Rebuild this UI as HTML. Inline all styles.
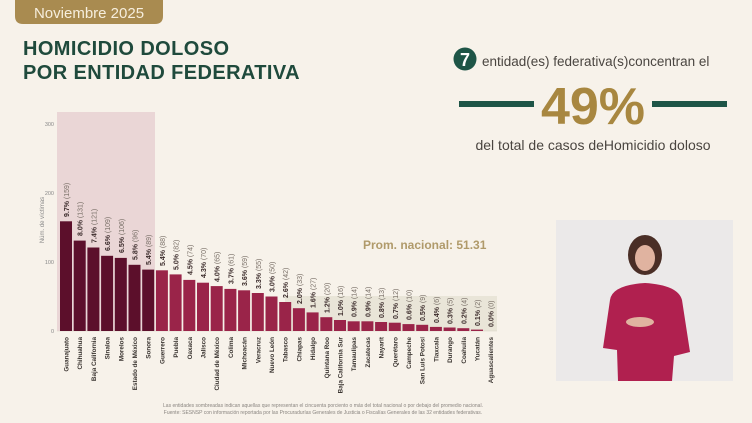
<!DOCTYPE html>
<html><head><meta charset="utf-8"><style>
html,body{margin:0;padding:0;width:752px;height:423px;overflow:hidden;background:#f7f2ea;}
svg{display:block;font-family:"Liberation Sans",sans-serif;}
</style></head><body>
<svg width="752" height="423" viewBox="0 0 752 423" xmlns="http://www.w3.org/2000/svg">
<rect width="752" height="423" fill="#f7f2ea"/>
<path d="M15 0 H163 V16 Q163 24 155 24 H23 Q15 24 15 16 Z" fill="#a98b50"/>
<text x="89" y="18" text-anchor="middle" font-size="15" fill="#f6eedd">Noviembre 2025</text>
<text x="23" y="55" font-size="20" font-weight="bold" fill="#1f4a3c" letter-spacing="0.4">HOMICIDIO DOLOSO</text>
<text x="23" y="79" font-size="20" font-weight="bold" fill="#1f4a3c" letter-spacing="0.4">POR ENTIDAD FEDERATIVA</text>
<circle cx="465" cy="59" r="11.5" fill="#1e5547"/>
<text x="465" y="66" text-anchor="middle" font-size="18" font-weight="bold" fill="#fff">7</text>
<text x="482" y="66" font-size="13.5" fill="#4a4540">entidad(es) federativa(s)concentran el</text>
<rect x="459" y="101" width="75" height="6" fill="#1e5547"/>
<rect x="652" y="101" width="75" height="6" fill="#1e5547"/>
<text x="593" y="124" text-anchor="middle" font-size="52" font-weight="bold" fill="#a88740">49%</text>
<text x="593" y="150" text-anchor="middle" font-size="14" fill="#4a4540">del total de casos deHomicidio doloso</text>
<text x="363" y="249" font-size="12" font-weight="bold" fill="#b09a6a">Prom. nacional: 51.31</text>
<rect x="556" y="220" width="177" height="161" fill="#ebe9e9"/>
<ellipse cx="645" cy="255" rx="17" ry="20" fill="#4a2e26"/>
<ellipse cx="645" cy="258" rx="10" ry="13" fill="#e0b3a0"/>
<path d="M610 300 Q612 285 645 283 Q678 285 682 300 L690 352 L674 356 L672 381 L618 381 L617 350 L603 348 Z" fill="#b0204f"/>
<ellipse cx="640" cy="322" rx="14" ry="5" fill="#e0b3a0"/>
<rect x="57" y="112" width="98" height="219" fill="#ead6d6"/>
<rect x="285" y="296" width="212" height="35" fill="#e9e5d8"/>
<line x1="57" y1="331" x2="497" y2="331" stroke="#d8cfc4" stroke-width="0.6"/>
<g font-size="5.5" fill="#888" text-anchor="end">
<text x="54" y="126">300</text><text x="54" y="195">200</text><text x="54" y="264">100</text><text x="54" y="333">0</text>
</g>
<text transform="translate(44,220) rotate(-90)" font-size="6" fill="#888" text-anchor="middle">Núm. de víctimas</text>
<g fill="#5c0f2b">
<rect x="60" y="221.3" width="12" height="109.7"/>
<rect x="73.7" y="240.6" width="12" height="90.4"/>
<rect x="87.4" y="247.5" width="12" height="83.5"/>
<rect x="101.1" y="255.8" width="12" height="75.2"/>
<rect x="114.8" y="257.9" width="12" height="73.1"/>
<rect x="128.5" y="264.8" width="12" height="66.2"/>
<rect x="142.2" y="269.6" width="12" height="61.4"/>
</g>
<g fill="#9a2449">
<rect x="155.9" y="270.3" width="12" height="60.7"/>
<rect x="169.6" y="274.4" width="12" height="56.6"/>
<rect x="183.3" y="279.9" width="12" height="51.1"/>
<rect x="197" y="282.7" width="12" height="48.3"/>
<rect x="210.7" y="286.1" width="12" height="44.9"/>
<rect x="224.4" y="288.9" width="12" height="42.1"/>
<rect x="238.1" y="290.3" width="12" height="40.7"/>
<rect x="251.8" y="293" width="12" height="38"/>
<rect x="265.5" y="296.5" width="12" height="34.5"/>
<rect x="279.2" y="302" width="12" height="29"/>
<rect x="292.9" y="308.2" width="12" height="22.8"/>
<rect x="306.6" y="312.4" width="12" height="18.6"/>
<rect x="320.3" y="317.2" width="12" height="13.8"/>
<rect x="334" y="320" width="12" height="11"/>
<rect x="347.7" y="321.3" width="12" height="9.7"/>
<rect x="361.4" y="321.3" width="12" height="9.7"/>
<rect x="375.1" y="322" width="12" height="9"/>
<rect x="388.8" y="322.7" width="12" height="8.3"/>
<rect x="402.5" y="324.1" width="12" height="6.9"/>
<rect x="416.2" y="324.8" width="12" height="6.2"/>
<rect x="429.9" y="326.9" width="12" height="4.1"/>
<rect x="443.6" y="327.5" width="12" height="3.5"/>
<rect x="457.3" y="328.2" width="12" height="2.8"/>
<rect x="471" y="329.6" width="12" height="1.4"/>
</g>
<g font-size="7" fill="#7a7068">
<text transform="translate(69,217) rotate(-90)"><tspan font-weight="bold" fill="#3a2a2a">9.7%</tspan> (159)</text>
<text transform="translate(82.7,236) rotate(-90)"><tspan font-weight="bold" fill="#3a2a2a">8.0%</tspan> (131)</text>
<text transform="translate(96.4,243) rotate(-90)"><tspan font-weight="bold" fill="#3a2a2a">7.4%</tspan> (121)</text>
<text transform="translate(110.1,251) rotate(-90)"><tspan font-weight="bold" fill="#3a2a2a">6.6%</tspan> (109)</text>
<text transform="translate(123.8,253) rotate(-90)"><tspan font-weight="bold" fill="#3a2a2a">6.5%</tspan> (106)</text>
<text transform="translate(137.5,260) rotate(-90)"><tspan font-weight="bold" fill="#3a2a2a">5.8%</tspan> (96)</text>
<text transform="translate(151.2,265) rotate(-90)"><tspan font-weight="bold" fill="#3a2a2a">5.4%</tspan> (89)</text>
<text transform="translate(164.9,266) rotate(-90)"><tspan font-weight="bold" fill="#3a2a2a">5.4%</tspan> (88)</text>
<text transform="translate(178.6,270) rotate(-90)"><tspan font-weight="bold" fill="#3a2a2a">5.0%</tspan> (82)</text>
<text transform="translate(192.3,275) rotate(-90)"><tspan font-weight="bold" fill="#3a2a2a">4.5%</tspan> (74)</text>
<text transform="translate(206,278) rotate(-90)"><tspan font-weight="bold" fill="#3a2a2a">4.3%</tspan> (70)</text>
<text transform="translate(219.7,282) rotate(-90)"><tspan font-weight="bold" fill="#3a2a2a">4.0%</tspan> (65)</text>
<text transform="translate(233.4,284) rotate(-90)"><tspan font-weight="bold" fill="#3a2a2a">3.7%</tspan> (61)</text>
<text transform="translate(247.1,286) rotate(-90)"><tspan font-weight="bold" fill="#3a2a2a">3.6%</tspan> (59)</text>
<text transform="translate(260.8,289) rotate(-90)"><tspan font-weight="bold" fill="#3a2a2a">3.3%</tspan> (55)</text>
<text transform="translate(274.5,292) rotate(-90)"><tspan font-weight="bold" fill="#3a2a2a">3.0%</tspan> (50)</text>
<text transform="translate(288.2,298) rotate(-90)"><tspan font-weight="bold" fill="#3a2a2a">2.6%</tspan> (42)</text>
<text transform="translate(301.9,304) rotate(-90)"><tspan font-weight="bold" fill="#3a2a2a">2.0%</tspan> (33)</text>
<text transform="translate(315.6,308) rotate(-90)"><tspan font-weight="bold" fill="#3a2a2a">1.6%</tspan> (27)</text>
<text transform="translate(329.3,313) rotate(-90)"><tspan font-weight="bold" fill="#3a2a2a">1.2%</tspan> (20)</text>
<text transform="translate(343,316) rotate(-90)"><tspan font-weight="bold" fill="#3a2a2a">1.0%</tspan> (16)</text>
<text transform="translate(356.7,317) rotate(-90)"><tspan font-weight="bold" fill="#3a2a2a">0.9%</tspan> (14)</text>
<text transform="translate(370.4,317) rotate(-90)"><tspan font-weight="bold" fill="#3a2a2a">0.9%</tspan> (14)</text>
<text transform="translate(384.1,318) rotate(-90)"><tspan font-weight="bold" fill="#3a2a2a">0.8%</tspan> (13)</text>
<text transform="translate(397.8,319) rotate(-90)"><tspan font-weight="bold" fill="#3a2a2a">0.7%</tspan> (12)</text>
<text transform="translate(411.5,320) rotate(-90)"><tspan font-weight="bold" fill="#3a2a2a">0.6%</tspan> (10)</text>
<text transform="translate(425.2,321) rotate(-90)"><tspan font-weight="bold" fill="#3a2a2a">0.5%</tspan> (9)</text>
<text transform="translate(438.9,323) rotate(-90)"><tspan font-weight="bold" fill="#3a2a2a">0.4%</tspan> (6)</text>
<text transform="translate(452.6,324) rotate(-90)"><tspan font-weight="bold" fill="#3a2a2a">0.3%</tspan> (5)</text>
<text transform="translate(466.3,324) rotate(-90)"><tspan font-weight="bold" fill="#3a2a2a">0.2%</tspan> (4)</text>
<text transform="translate(480,326) rotate(-90)"><tspan font-weight="bold" fill="#3a2a2a">0.1%</tspan> (2)</text>
<text transform="translate(493.7,327) rotate(-90)"><tspan font-weight="bold" fill="#3a2a2a">0.0%</tspan> (0)</text>
</g>
<g font-size="6.3" font-weight="bold" fill="#3a3430" text-anchor="end">
<text transform="translate(68.5,337) rotate(-90)">Guanajuato</text>
<text transform="translate(82.2,337) rotate(-90)">Chihuahua</text>
<text transform="translate(95.9,337) rotate(-90)">Baja California</text>
<text transform="translate(109.6,337) rotate(-90)">Sinaloa</text>
<text transform="translate(123.3,337) rotate(-90)">Morelos</text>
<text transform="translate(137,337) rotate(-90)">Estado de México</text>
<text transform="translate(150.7,337) rotate(-90)">Sonora</text>
<text transform="translate(164.4,337) rotate(-90)">Guerrero</text>
<text transform="translate(178.1,337) rotate(-90)">Puebla</text>
<text transform="translate(191.8,337) rotate(-90)">Oaxaca</text>
<text transform="translate(205.5,337) rotate(-90)">Jalisco</text>
<text transform="translate(219.2,337) rotate(-90)">Ciudad de México</text>
<text transform="translate(232.9,337) rotate(-90)">Colima</text>
<text transform="translate(246.6,337) rotate(-90)">Michoacán</text>
<text transform="translate(260.3,337) rotate(-90)">Veracruz</text>
<text transform="translate(274,337) rotate(-90)">Nuevo León</text>
<text transform="translate(287.7,337) rotate(-90)">Tabasco</text>
<text transform="translate(301.4,337) rotate(-90)">Chiapas</text>
<text transform="translate(315.1,337) rotate(-90)">Hidalgo</text>
<text transform="translate(328.8,337) rotate(-90)">Quintana Roo</text>
<text transform="translate(342.5,337) rotate(-90)">Baja California Sur</text>
<text transform="translate(356.2,337) rotate(-90)">Tamaulipas</text>
<text transform="translate(369.9,337) rotate(-90)">Zacatecas</text>
<text transform="translate(383.6,337) rotate(-90)">Nayarit</text>
<text transform="translate(397.3,337) rotate(-90)">Querétaro</text>
<text transform="translate(411,337) rotate(-90)">Campeche</text>
<text transform="translate(424.7,337) rotate(-90)">San Luis Potosí</text>
<text transform="translate(438.4,337) rotate(-90)">Tlaxcala</text>
<text transform="translate(452.1,337) rotate(-90)">Durango</text>
<text transform="translate(465.8,337) rotate(-90)">Coahuila</text>
<text transform="translate(479.5,337) rotate(-90)">Yucatán</text>
<text transform="translate(493.2,337) rotate(-90)">Aguascalientes</text>
</g>
<g font-size="5" fill="#8a8580" text-anchor="middle">
<text x="323" y="407">Las entidades sombreadas indican aquellas que representan el cincuenta porciento o más del total nacional o por debajo del promedio nacional.</text>
<text x="323" y="414">Fuente: SESNSP con información reportada por las Procuradurías Generales de Justicia o Fiscalías Generales de las 32 entidades federativas.</text>
</g>
</svg>
</body></html>
